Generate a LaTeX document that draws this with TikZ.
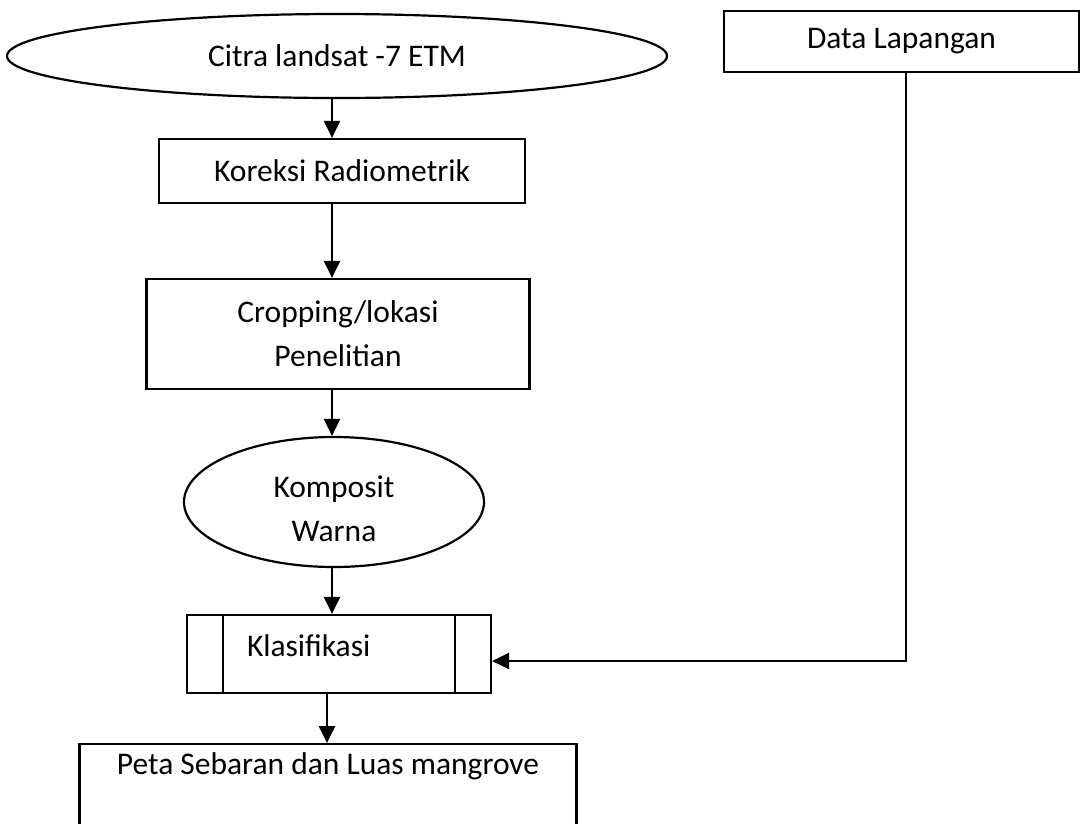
\documentclass[tikz,border=0pt]{standalone}
\usepackage{fontspec}
\setmainfont{Carlito}
\usepackage{tikz}
\usetikzlibrary{shapes.geometric, arrows.meta, positioning, calc}

\begin{document}
\begin{tikzpicture}[
    x=1pt, y=-1pt,
    every node/.style={font=\fontsize{31.5}{44}\selectfont},
    terminal/.style={ellipse, draw, line width=2.2pt, inner sep=0pt, align=center},
    process/.style={rectangle, draw, line width=2.2pt, inner sep=0pt, align=center},
    predef/.style={rectangle, draw, line width=2.2pt, inner ysep=0pt, inner xsep=60pt, text width=184pt, align=left, text depth=16pt},
    arr/.style={-{Triangle[length=17pt,width=16pt]}, line width=2.6pt},
]
\useasboundingbox (0,0) rectangle (1080,823);
\clip (0,0) rectangle (1080,823);

\coordinate (axis) at (332,0);

% Main chain
\node[terminal, minimum width=660pt, minimum height=84pt] (citra) at (337,56) {Citra landsat -7 ETM};
\node[process, minimum width=366pt, minimum height=64pt] (koreksi) at (342,171) {Koreksi Radiometrik};
\node[process, minimum width=383pt, minimum height=110pt] (crop) at (338,334) {Cropping/lokasi\\Penelitian};
\node[terminal, minimum width=300pt, minimum height=130pt, text height=78pt, text depth=0pt] (komposit) at (334,502) {Komposit\\Warna};
\node[predef, minimum height=78pt] (klas) at (339,654) {Klasifikasi};
\node[process, anchor=north, minimum width=497pt, inner ysep=4pt, text height=26pt, text depth=80pt] (peta) at (328,743) {Peta Sebaran dan Luas mangrove};

% Side bars of the predefined process
\draw[line width=2.2pt] ([xshift=37pt]klas.north west) -- ([xshift=37pt]klas.south west);
\draw[line width=2.2pt] ([xshift=-37pt]klas.north east) -- ([xshift=-37pt]klas.south east);

% Field data
\node[process, minimum width=355pt, minimum height=61pt] (data) at (901.5,41.5) {Data Lapangan};
\coordinate (bend) at (906,661);

% Arrows
\draw[arr] (citra.south -| axis) -- (koreksi.north -| axis);
\draw[arr] (koreksi.south -| axis) -- (crop.north -| axis);
\draw[arr] (crop.south -| axis) -- (komposit.north -| axis);
\draw[arr] (komposit.south -| axis) -- (klas.north -| axis);
\draw[arr] ([xshift=-5pt]klas.south -| axis) -- ([xshift=-5pt]peta.north -| axis);
\draw[arr] (data.south -| bend) -- (bend) -- (klas.east |- bend);

\end{tikzpicture}
\end{document}
